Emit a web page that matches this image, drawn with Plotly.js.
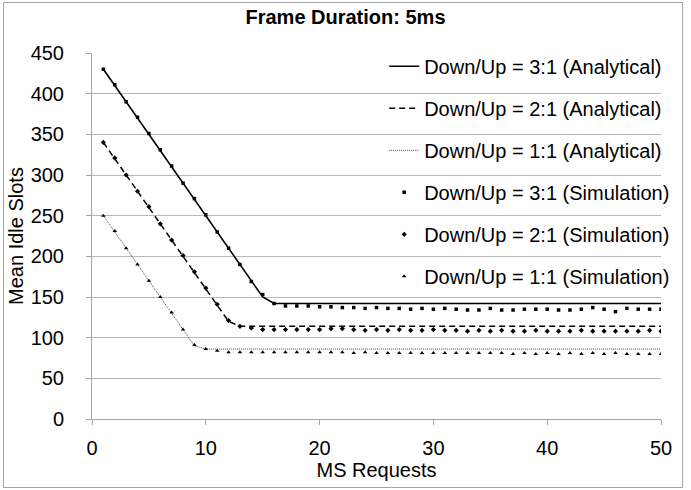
<!DOCTYPE html>
<html>
<head>
<meta charset="utf-8">
<script src="https://cdn.plot.ly/plotly-3.0.1.min.js"></script>
<style>
  html, body { margin: 0; padding: 0; background: #fff; }
  #wrap { position: relative; width: 691px; height: 490px; }
  #chart { width: 691px; height: 490px; }
  #frame { position: absolute; left: 3px; top: 2px; width: 678px; height: 484px; border: 1px solid #a6a6a6; pointer-events: none; }
</style>
</head>
<body>
<div id="wrap"><div id="chart"></div><div id="frame"></div></div>
<script>
const msRequests = [1,2,3,4,5,6,7,8,9,10,11,12,13,14,15,16,17,18,19,20,21,22,23,24,25,26,27,28,29,30,31,32,33,34,35,36,37,38,39,40,41,42,43,44,45,46,47,48,49,50];

const ana31 = [430,410,390,370,350,330,310,290,270,250,230,210,190,170,150,142,142,142,142,142,142,142,142,142,142,142,142,142,142,142,142,142,142,142,142,142,142,142,142,142,142,142,142,142,142,142,142,142,142,142];
const ana21 = [340,320,300,280,260,240,220,200,180,160,140,120,114,114,114,114,114,114,114,114,114,114,114,114,114,114,114,114,114,114,114,114,114,114,114,114,114,114,114,114,114,114,114,114,114,114,114,114,114,114];
const ana11 = [250,230,210,190,170,150,130,110,90,86,86,86,86,86,86,86,86,86,86,86,86,86,86,86,86,86,86,86,86,86,86,86,86,86,86,86,86,86,86,86,86,86,86,86,86,86,86,86,86,86];

const sim31 = [430,411,390,371,351,331,311,290,271,251,230,210,190,169,153,142,139,139,139,138,138,137,137,136,137,136,136,135,136,135,136,135,134,134,136,134,134,135,135,135,134,134,135,137,135,132,136,135,135,135];
const sim21 = [340,321,300,280,261,240,220,201,181,161,141,121,114,112,110,110,110,110,110,110,111,111,110,109,110,109,110,109,109,110,109,109,108,109,108,109,108,108,109,108,108,108,109,108,108,108,108,108,109,108];
const sim11 = [250,231,210,190,170,150,131,110,91,86,84,82,82,82,82,82,82,82,82,82,82,82,81,82,81,81,81,81,81,81,81,81,81,81,81,81,80,81,80,81,80,81,80,81,80,81,80,80,80,80];

const seriesNames = [
  'Down/Up = 3:1 (Analytical)',
  'Down/Up = 2:1 (Analytical)',
  'Down/Up = 1:1 (Analytical)',
  'Down/Up = 3:1 (Simulation)',
  'Down/Up = 2:1 (Simulation)',
  'Down/Up = 1:1 (Simulation)'
];

const FONT = 'Liberation Sans, Arial, sans-serif';

const traces = [
  {x: msRequests, y: ana31, name: seriesNames[0], legendgroup: 'a', mode: 'lines', line: {color: '#000', width: 1.6}},
  {x: msRequests, y: ana21, name: seriesNames[1], legendgroup: 'b', mode: 'lines', line: {color: '#000', width: 1.5, dash: '6px,4px'}},
  {x: msRequests, y: ana11, name: seriesNames[2], legendgroup: 'c', mode: 'lines', line: {color: '#444', width: 1, dash: '1px,1px'}},
  {x: msRequests, y: sim31, name: seriesNames[3], legendgroup: 'd', mode: 'markers', marker: {color: '#000', symbol: 'square', size: 3.5}},
  {x: msRequests, y: sim21, name: seriesNames[4], legendgroup: 'e', mode: 'markers', marker: {color: '#000', symbol: 'diamond', size: 4}},
  {x: msRequests, y: sim11, name: seriesNames[5], legendgroup: 'f', mode: 'markers', marker: {color: '#000', symbol: 'triangle-up', size: 4}}
];

const layout = {
  width: 691, height: 490,
  margin: {l: 92, r: 30, t: 53, b: 71},
  paper_bgcolor: '#fff', plot_bgcolor: '#fff',
  font: {family: FONT, size: 20, color: '#000'},
  title: {text: '<b>Frame Duration: 5ms</b>', x: 0.5, xanchor: 'center', y: 0.965, yanchor: 'middle', font: {family: FONT, size: 20, color: '#000'}},
  showlegend: true,
  legend: {
    x: 0.5135, xanchor: 'left', y: 1.017, yanchor: 'top',
    bgcolor: 'rgba(0,0,0,0)', borderwidth: 0,
    font: {family: FONT, size: 20, color: '#000'},
    tracegroupgap: 13, itemwidth: 30
  },
  xaxis: {
    range: [0, 50], tickvals: [0,10,20,30,40,50], ticktext: ['0','10','20','30','40','50'],
    showgrid: false, zeroline: false, showline: true, linecolor: '#a6a6a6', linewidth: 1,
    ticks: 'outside', ticklen: 5, tickcolor: '#a6a6a6', ticklabelstandoff: 6,
    tickfont: {family: FONT, size: 20, color: '#000'},
    title: {text: 'MS Requests', font: {family: FONT, size: 20, color: '#000'}, standoff: 1}
  },
  yaxis: {
    range: [0, 450], tickvals: [0,50,100,150,200,250,300,350,400,450],
    showgrid: true, gridcolor: '#b8b8b8', gridwidth: 1, zeroline: false,
    showline: true, linecolor: '#a6a6a6', linewidth: 1,
    ticks: 'outside', ticklen: 5, tickcolor: '#a6a6a6', ticklabelstandoff: 18,
    tickfont: {family: FONT, size: 20, color: '#000'},
    title: {text: 'Mean Idle Slots', font: {family: FONT, size: 20, color: '#000'}, standoff: 1}
  }
};

Plotly.newPlot('chart', traces, layout, {displayModeBar: false, staticPlot: true});
</script>
</body>
</html>
